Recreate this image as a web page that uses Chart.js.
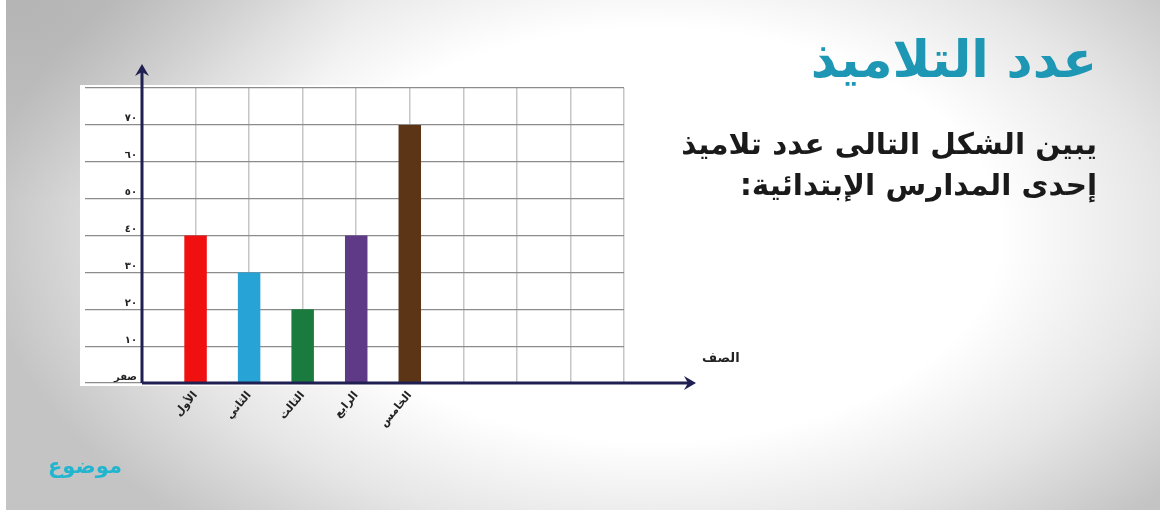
<!DOCTYPE html>
<html lang="ar">
<head>
<meta charset="utf-8">
<script src="https://cdn.jsdelivr.net/npm/chart.js@4.4.1/dist/chart.umd.min.js"></script>
<style>
  html, body { margin: 0; padding: 0; }
  body { width: 1166px; height: 510px; overflow: hidden; position: relative; font-family: "DejaVu Sans", sans-serif; }
  #bg {
    position: absolute; left: 6px; top: 0; width: 1154px; height: 510px;
    background:
      radial-gradient(ellipse 30% 40% at 0% 0%, rgba(150,150,150,0.35), rgba(150,150,150,0) 100%),
      radial-gradient(ellipse 58% 78% at 56% 46%, #ffffff 52%, #e6e6e6 76%, #c4c4c4 100%);
  }
  #chart { position: absolute; left: 0; top: 0; }
  .title {
    position: absolute; right: 69px; top: 30px; direction: rtl;
    font-size: 51px; font-weight: bold; color: #1d97b4;
  }
  .desc {
    position: absolute; right: 69px; top: 124px; direction: rtl; text-align: right;
    font-size: 29.5px; font-weight: bold; color: #1a1a1a; line-height: 41px;
  }
  .logo {
    position: absolute; left: 48px; top: 454px; direction: rtl;
    font-size: 21px; font-weight: bold; color: #22b5cf;
  }
</style>
</head>
<body>
<div id="bg"></div>
<canvas id="chart" width="1166" height="510"></canvas>
<div class="title">عدد التلاميذ</div>
<div class="desc">يبين الشكل التالى عدد تلاميذ<br>إحدى المدارس الإبتدائية:</div>
<div class="logo">موضوع</div>
<script>
  "use strict";
  var categories = ['الأول', 'الثاني', 'الثالث', 'الرابع', 'الخامس'];
  var students = [40, 30, 20, 40, 70];
  var barColors = ['#f01010', '#27a3d6', '#1b7a3e', '#5f3a86', '#5b3515'];
  var yTickLabels = ['صفر', '١٠', '٢٠', '٣٠', '٤٠', '٥٠', '٦٠', '٧٠', ''];
  var xAxisTitle = 'الصف';

  var axisColor = '#1f1f52';

  var arrowAxes = {
    id: 'arrowAxes',
    beforeDraw: function (chart) {
      var a = chart.chartArea, ctx = chart.ctx;
      ctx.save();
      ctx.fillStyle = '#ffffff';
      ctx.fillRect(a.left - 62, a.top - 3, a.right - a.left + 68, a.bottom - a.top + 6);
      ctx.restore();
    },
    afterDraw: function (chart) {
      var a = chart.chartArea, ctx = chart.ctx;
      var xEnd = a.right + 72, yEnd = a.top - 24;
      ctx.save();
      ctx.strokeStyle = axisColor;
      ctx.fillStyle = axisColor;
      ctx.lineWidth = 3;
      ctx.beginPath();
      ctx.moveTo(a.left, a.bottom);
      ctx.lineTo(xEnd - 4, a.bottom);
      ctx.moveTo(a.left, a.bottom);
      ctx.lineTo(a.left, yEnd + 4);
      ctx.stroke();
      // arrow heads
      ctx.beginPath();
      ctx.moveTo(xEnd, a.bottom);
      ctx.lineTo(xEnd - 12, a.bottom - 7);
      ctx.lineTo(xEnd - 8, a.bottom);
      ctx.lineTo(xEnd - 12, a.bottom + 7);
      ctx.closePath();
      ctx.fill();
      ctx.beginPath();
      ctx.moveTo(a.left, yEnd);
      ctx.lineTo(a.left - 7, yEnd + 12);
      ctx.lineTo(a.left, yEnd + 8);
      ctx.lineTo(a.left + 7, yEnd + 12);
      ctx.closePath();
      ctx.fill();
      ctx.font = 'bold 13px "DejaVu Sans"';
      ctx.fillStyle = '#222';
      ctx.textAlign = 'left';
      ctx.textBaseline = 'middle';
      ctx.fillText(xAxisTitle, a.right + 78, a.bottom - 24);
      ctx.restore();
    }
  };

  new Chart(document.getElementById('chart').getContext('2d'), {
    type: 'bar',
    data: {
      datasets: [{
        label: 'عدد التلاميذ',
        data: students.map(function (v, i) { return { x: i + 1, y: v }; }),
        backgroundColor: barColors,
        borderWidth: 0,
        barPercentage: 0.42,
        categoryPercentage: 1
      }]
    },
    options: {
      responsive: false,
      animation: false,
      layout: { padding: { left: 80, right: 542, top: 88, bottom: 67 } },
      plugins: {
        legend: { display: false },
        tooltip: { enabled: false }
      },
      scales: {
        x: {
          type: 'linear',
          min: 0,
          max: 9,
          offset: false,
          afterFit: function (s) { s.height = 60; },
          border: { display: false },
          grid: { color: '#c6c6c6', lineWidth: 1.5, drawTicks: false, offset: false },
          ticks: {
            stepSize: 1,
            autoSkip: false,
            minRotation: 50,
            maxRotation: 50,
            padding: 6,
            color: '#222',
            font: { family: 'DejaVu Sans', size: 11, weight: 'bold' },
            callback: function (v) { return categories[v - 1] || ''; }
          }
        },
        y: {
          min: 0,
          max: 80,
          afterFit: function (s) { s.width = 62; },
          border: { display: false },
          grid: { color: '#8c8c8c', lineWidth: 1.2, tickLength: 57 },
          ticks: {
            stepSize: 10,
            padding: -52,
            color: '#222',
            font: { family: 'DejaVu Sans', size: 10, weight: 'bold' },
            callback: function (v, i) { return [yTickLabels[i], '']; }
          }
        }
      }
    },
    plugins: [arrowAxes]
  });
</script>
</body>
</html>
